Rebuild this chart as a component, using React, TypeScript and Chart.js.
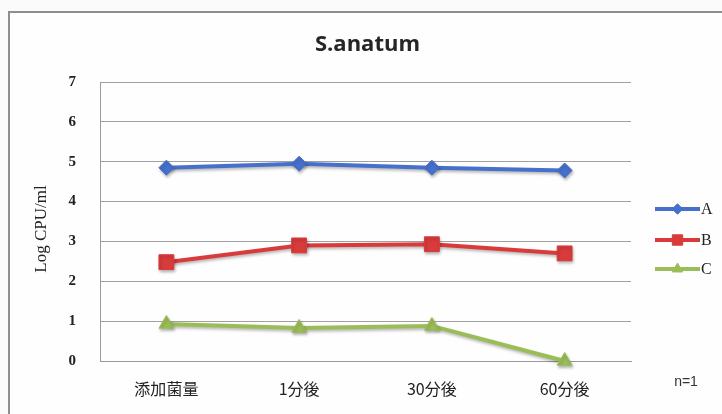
import React, { useEffect, useRef } from "react";
import { Chart, registerables } from "chart.js";
import { drawPoint } from "chart.js/helpers";

Chart.register(...registerables);

// Sampling times and measured counts (log CFU/ml)
const categories = ["添加菌量", "1分後", "30分後", "60分後"];
const seriesNames = ["A", "B", "C"];
const valuesA = [4.85, 4.95, 4.85, 4.78];
const valuesB = [2.48, 2.9, 2.93, 2.7];
const valuesC = [0.93, 0.83, 0.88, 0.0];
const yMin = 0;
const yMax = 7;
const yStep = 1;

const chartTitle = "S.anatum";
const yTitle = "Log CPU/ml";
const noteText = "n=1";

const SERIF = "'Liberation Serif', 'Noto Sans CJK JP', serif";
const GOTHIC = "'Noto Sans CJK JP', 'Liberation Sans', sans-serif";

// Frame around the whole figure plus a white fill
const framePlugin = {
  id: "frame",
  beforeDraw(chart: any) {
    const { ctx, width, height } = chart;
    ctx.save();
    ctx.fillStyle = "#fbfbfb";
    ctx.fillRect(0, 0, width, height);
    ctx.fillStyle = "#fefefe";
    ctx.fillRect(9, 12, width, height);
    ctx.strokeStyle = "#8e8e8e";
    ctx.lineWidth = 2;
    ctx.strokeRect(9, 12, width + 20, height + 20);
    ctx.restore();
  },
};

// Soft drop shadow under the series lines and markers
const shadowPlugin = {
  id: "seriesShadow",
  beforeDatasetsDraw(chart: any) {
    const ctx = chart.ctx;
    ctx.save();
    ctx.shadowColor = "rgba(0,0,0,0.28)";
    ctx.shadowBlur = 3;
    ctx.shadowOffsetX = 1;
    ctx.shadowOffsetY = 2;
  },
  afterDatasetsDraw(chart: any) {
    chart.ctx.restore();
  },
};

// Title, y-axis caption, legend (line + marker) and sample-size note
const annotationsPlugin = {
  id: "annotations",
  afterDraw(chart: any) {
    const { ctx, chartArea } = chart;
    ctx.save();
    ctx.fillStyle = "#262626";
    ctx.font = "bold 22px 'Open Sans', 'Liberation Sans', sans-serif";
    ctx.textAlign = "center";
    ctx.textBaseline = "middle";
    ctx.fillText(chartTitle, (chartArea.left + chartArea.right) / 2 + 2, 45);

    ctx.save();
    ctx.translate(42, 229);
    ctx.rotate(-Math.PI / 2);
    ctx.fillStyle = "#222";
    ctx.font = "17px " + SERIF;
    ctx.fillText(yTitle, 0, 0);
    ctx.restore();

    const x0 = 655;
    const x1 = 700;
    const ys = [209, 240, 269];
    chart.data.datasets.forEach((ds: any, i: number) => {
      const y = ys[i];
      ctx.strokeStyle = ds.borderColor;
      ctx.lineWidth = 4;
      ctx.beginPath();
      ctx.moveTo(x0, y);
      ctx.lineTo(x1, y);
      ctx.stroke();
      ctx.fillStyle = ds.pointBackgroundColor;
      ctx.strokeStyle = ds.pointBorderColor;
      ctx.lineWidth = 1;
      drawPoint(ctx, { pointStyle: ds.pointStyle, radius: ds.pointRadius * 0.7, rotation: 0, borderWidth: 1 }, (x0 + x1) / 2, y);
      ctx.fillStyle = "#222";
      ctx.font = "16px " + SERIF;
      ctx.textAlign = "left";
      ctx.textBaseline = "middle";
      ctx.fillText(ds.label, x1 + 1, y + 1);
    });

    ctx.fillStyle = "#333";
    ctx.font = "14px 'Liberation Sans', sans-serif";
    ctx.textAlign = "center";
    ctx.fillText(noteText, 686, 382);
    ctx.restore();
  },
};

export default function App() {
  const ref = useRef<HTMLCanvasElement | null>(null);

  useEffect(() => {
    if (!ref.current) return;
    const colors = ["#4670cc", "#d93b3b", "#9bbd57"];
    const styles = ["rectRot", "rect", "triangle"];
    const radii = [7.5, 10.5, 8.5];
    const series = [valuesA, valuesB, valuesC];
    const chart = new Chart(ref.current, {
      type: "line",
      data: {
        labels: categories,
        datasets: series.map((vals, i) => ({
          label: seriesNames[i],
          data: vals,
          borderColor: colors[i],
          backgroundColor: colors[i],
          pointBackgroundColor: colors[i],
          pointBorderColor: colors[i],
          pointStyle: styles[i] as any,
          pointRadius: radii[i],
          pointBorderWidth: 1,
          borderWidth: 4,
          tension: 0,
          clip: false as any,
        })),
      },
      options: {
        animation: false,
        responsive: false,
        maintainAspectRatio: false,
        layout: { padding: { top: 82, right: 91, left: 0, bottom: 0 } },
        plugins: {
          legend: { display: false },
          title: { display: false },
          tooltip: { enabled: false },
        },
        scales: {
          x: {
            type: "category",
            offset: true,
            grid: { display: false },
            border: { display: true, color: "#9a9a9a", width: 1 },
            ticks: {
              color: "#222",
              font: { family: GOTHIC, size: 16 },
              padding: 10,
            },
            afterFit(scale: any) {
              scale.height = 53;
            },
          },
          y: {
            min: yMin,
            max: yMax,
            ticks: {
              stepSize: yStep,
              color: "#222",
              font: { family: SERIF, size: 15, weight: "bold" },
              padding: 24,
            },
            grid: { color: "#a0a0a0", lineWidth: 1, drawTicks: false },
            border: { display: true, color: "#9a9a9a", width: 1 },
            afterFit(scale: any) {
              scale.width = 100;
            },
          },
        },
      },
      plugins: [framePlugin, shadowPlugin, annotationsPlugin],
    });
    return () => chart.destroy();
  }, []);

  return (
    <div style={{ position: "fixed", left: 0, top: 0, width: 722, height: 414 }}>
      <canvas ref={ref} width={722} height={414} style={{ display: "block", width: 722, height: 414 }} />
    </div>
  );
}
